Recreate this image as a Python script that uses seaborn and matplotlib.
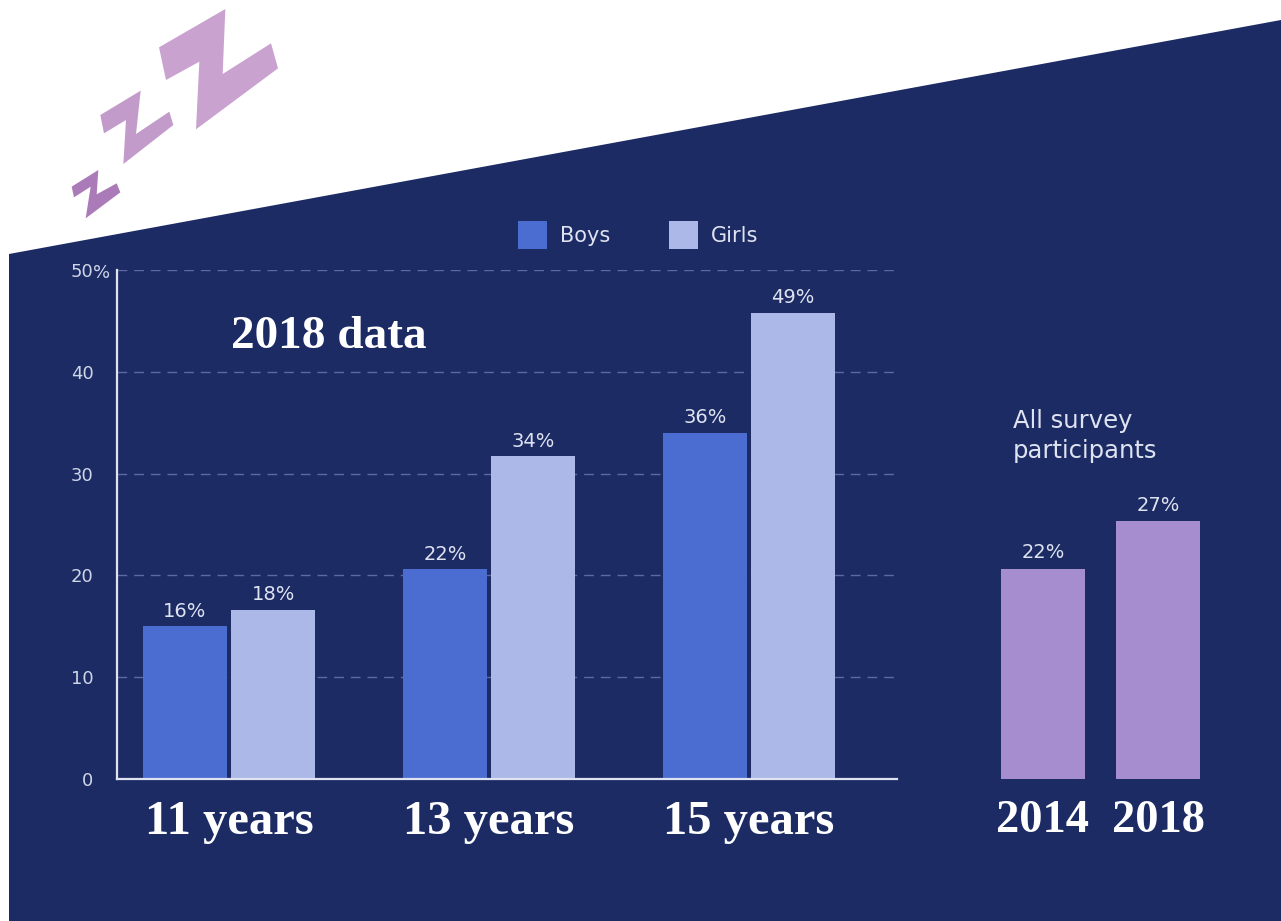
import pandas as pd
import matplotlib
matplotlib.use('Agg')
import matplotlib.pyplot as plt
from matplotlib.patches import Polygon
import seaborn as sns

W, H = 1281, 921

ages = ['11 years', '13 years', '15 years']
boys = [15.0, 20.6, 34.0]
girls = [16.6, 31.7, 45.8]
boys_labels = ['16%', '22%', '36%']
girls_labels = ['18%', '34%', '49%']

years = ['2014', '2018']
all_part = [20.6, 25.3]
all_labels = ['22%', '27%']

y_ticks = [0, 10, 20, 30, 40, 50]
y_ticklabels = ['0', '10', '20', '30', '40', '50']

NAVY = '#1c2b64'
BOYS = '#4b6cd0'
GIRLS = '#abb8e8'
PURPLE = '#a68dd0'
LIGHT = '#dfe3f1'
SERIF = 'Liberation Serif'

sns.set_theme(style='white')
plt.rcParams['font.family'] = ['DejaVu Sans']


def px_axes(fig, x0, y0, x1, y1):
    return fig.add_axes([x0 / W, 1 - y1 / H, (x1 - x0) / W, (y1 - y0) / H])


def px_poly(points, color, zorder=-1):
    pts = [(x / W, 1 - y / H) for x, y in points]
    fig.add_artist(Polygon(pts, closed=True, fc=color, ec='none',
                           transform=fig.transFigure, zorder=zorder))


def zoom_pts(points):
    return [(40 + x / 3, y / 3) for x, y in points]


def serif_ticks(axis, size):
    axis.tick_params(axis='x', length=0, pad=15)
    for lab in axis.get_xticklabels():
        lab.set_fontfamily(SERIF)
        lab.set_fontweight('bold')
        lab.set_fontsize(size)
        lab.set_color('white')


fig = plt.figure(figsize=(W / 100, H / 100), dpi=100, facecolor='white')

# slanted navy background
px_poly([(9, 254), (W, 20), (W, H), (9, H)], NAVY, zorder=-2)

# zzz icon
px_poly(zoom_pts([(357, 142), (556, 27), (548, 222), (693, 130), (714, 205),
                  (468, 388), (478, 185), (378, 240)]), '#c9a2cf')
px_poly(zoom_pts([(181, 345), (302, 272), (288, 402), (388, 335), (400, 375),
                  (250, 492), (258, 360), (192, 400)]), '#c29bca')
px_poly(zoom_pts([(95, 560), (175, 510), (170, 583), (230, 550), (241, 577),
                  (137, 655), (152, 560), (102, 592)]), '#aa7bb8')

# main chart
df = pd.DataFrame({
    'age': ages * 2,
    'value': boys + girls,
    'sex': ['Boys'] * 3 + ['Girls'] * 3,
})

ax = px_axes(fig, 117, 270, 897, 779)
ax.patch.set_alpha(0)
sns.barplot(data=df, x='age', y='value', hue='sex',
            palette={'Boys': BOYS, 'Girls': GIRLS},
            width=0.677, gap=0.045, saturation=1, linewidth=0, ax=ax)
ax.set_xlim(-0.431, 2.569)
ax.set_ylim(0, 50)
ax.set_xlabel('')
ax.set_ylabel('')
ax.set_yticks(y_ticks)
ax.set_yticklabels(y_ticklabels, color='#cfd5e8', fontsize=13)
ax.tick_params(axis='y', length=0, pad=17)
serif_ticks(ax, 35)
ax.grid(axis='y', color='#5a6aa3', linestyle=(0, (7, 5)), linewidth=1)
ax.set_axisbelow(True)
sns.despine(ax=ax)
for side in ['left', 'bottom']:
    ax.spines[side].set_color(LIGHT)
    ax.spines[side].set_linewidth(1.6)

ax.bar_label(ax.containers[0], labels=boys_labels, color=LIGHT, fontsize=14, padding=4)
ax.bar_label(ax.containers[1], labels=girls_labels, color=LIGHT, fontsize=14, padding=4)

ax.annotate('%', xy=(0, 1), xycoords='axes fraction', xytext=(-17, -2),
            textcoords='offset points', color='#cfd5e8', fontsize=13,
            ha='left', va='center')

ax.text(231 / W, 1 - 337 / H, '2018 data', transform=fig.transFigure,
        family=SERIF, weight='bold', fontsize=34, color='white',
        ha='left', va='center')

sns.move_legend(ax, 'center left', bbox_to_anchor=(518 / W, 1 - 235 / H),
                bbox_transform=fig.transFigure, ncol=2, title=None, frameon=False,
                fontsize=15, labelcolor=LIGHT, handlelength=1.4, handleheight=1.7,
                handletextpad=0.63, columnspacing=2.79, borderpad=0, borderaxespad=0)

# all participants chart
ax2 = px_axes(fig, 985.5, 270, 1215.5, 779)
ax2.patch.set_alpha(0)
sns.barplot(x=years, y=all_part, color=PURPLE, width=0.73, saturation=1, linewidth=0, ax=ax2)
ax2.set_xlim(-0.5, 1.5)
ax2.set_ylim(0, 50)
ax2.set_yticks([])
serif_ticks(ax2, 33.5)
sns.despine(ax=ax2, left=True, bottom=True)
ax2.bar_label(ax2.containers[0], labels=all_labels, color=LIGHT, fontsize=14, padding=5)

fig.text(1013 / W, 1 - 436 / H, 'All survey\nparticipants', color=LIGHT,
         fontsize=17.5, ha='left', va='center', linespacing=1.3)

fig.savefig('out.png', dpi=100, facecolor='white')
